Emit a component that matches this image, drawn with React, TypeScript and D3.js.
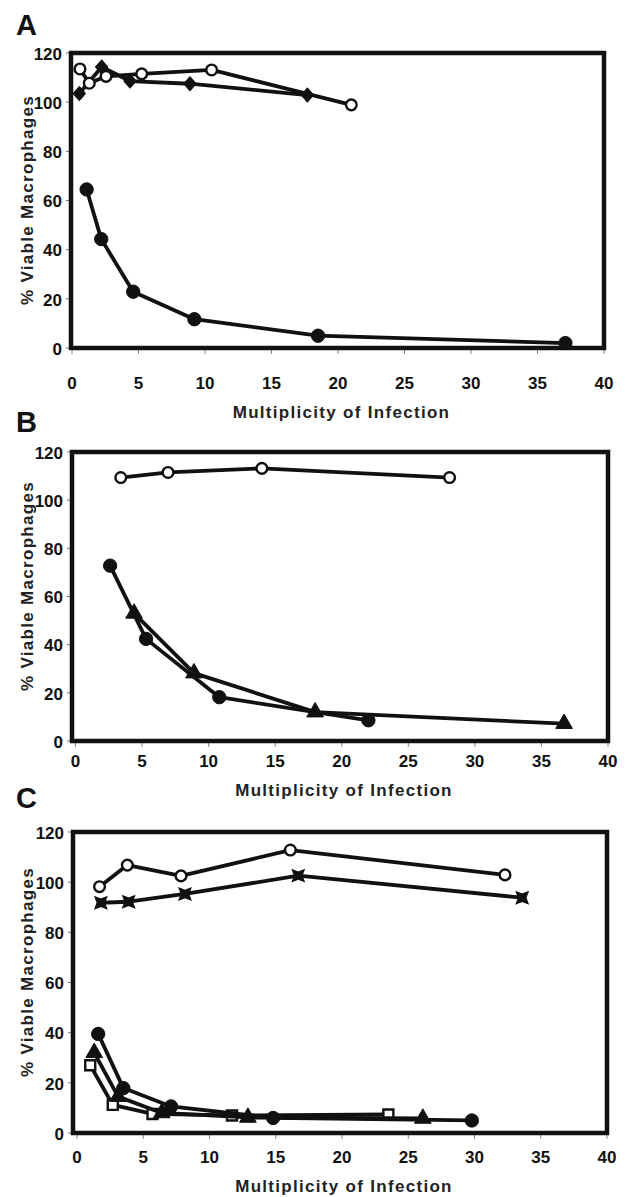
import React from 'react'
import * as d3 from 'd3'

type Pt = [number, number]

// tick values shared by all three panels
const xTicks = [0, 5, 10, 15, 20, 25, 30, 35, 40]
const yTicks = [0, 20, 40, 60, 80, 100, 120]

// Panel A  (MOI, % viable)
const aOpenCircle: Pt[] = [[0.6, 113.5], [1.3, 107.7], [2.56, 110.5], [5.24, 111.5], [10.5, 113.1], [21.0, 98.9]]
const aDiamond: Pt[] = [[0.55, 103.5], [2.23, 114.3], [4.36, 108.6], [8.87, 107.5], [17.7, 102.9]]
const aFilledCircle: Pt[] = [[1.1, 64.5], [2.2, 44.3], [4.6, 22.9], [9.2, 11.7], [18.5, 5.0], [37.1, 2.0]]

// Panel B
const bOpenCircle: Pt[] = [[3.4, 109.4], [6.95, 111.5], [14.0, 113.2], [28.1, 109.4]]
const bFilledCircle: Pt[] = [[2.6, 72.8], [5.3, 42.4], [10.8, 18.2], [22.0, 8.6]]
const bTriangle: Pt[] = [[4.4, 53.0], [8.9, 28.2], [18.0, 12.0], [36.7, 7.2]]

// Panel C
const cOpenCircle: Pt[] = [[1.7, 98.2], [3.8, 106.8], [7.85, 102.5], [16.1, 112.8], [32.3, 102.9]]
const cCross: Pt[] = [[1.8, 91.8], [3.9, 92.2], [8.15, 95.3], [16.7, 102.6], [33.6, 93.8]]
const cFilledCircle: Pt[] = [[1.6, 39.5], [3.5, 17.9], [7.1, 10.6], [14.8, 6.0], [29.8, 5.0]]
const cTriangle: Pt[] = [[1.3, 32.0], [3.1, 14.5], [6.4, 8.0], [12.9, 6.2], [26.1, 5.8]]
const cSquare: Pt[] = [[1.0, 27.0], [2.7, 11.2], [5.7, 7.6], [11.7, 7.0], [23.5, 7.4]]

const FONT = '"Liberation Sans", Arial, Helvetica, sans-serif'
const INK = '#111'

// fat diamond and filled bow-tie marker shapes as d3 symbol types
const fatDiamond = {
  draw(ctx: any, size: number) {
    const r = Math.sqrt(size) / 2
    ctx.moveTo(0, -r * 1.15)
    ctx.lineTo(r, 0)
    ctx.lineTo(0, r * 1.15)
    ctx.lineTo(-r, 0)
    ctx.closePath()
  }
}
const bowTie = {
  draw(ctx: any, size: number) {
    const r = Math.sqrt(size) / 2
    const k = r * 0.62
    ctx.moveTo(-r, -r)
    ctx.lineTo(0, -k)
    ctx.lineTo(r, -r)
    ctx.lineTo(k, 0)
    ctx.lineTo(r, r)
    ctx.lineTo(0, k)
    ctx.lineTo(-r, r)
    ctx.lineTo(-k, 0)
    ctx.closePath()
  }
}

const markers: Record<string, { path: string; fill: string; stroke: string; sw: number }> = {
  filled: { path: d3.symbol(d3.symbolCircle, 140)() || '', fill: INK, stroke: INK, sw: 1 },
  open: { path: d3.symbol(d3.symbolCircle, 90)() || '', fill: '#fff', stroke: INK, sw: 2.4 },
  diamond: { path: d3.symbol(fatDiamond as any, 160)() || '', fill: INK, stroke: INK, sw: 1 },
  triangle: { path: d3.symbol(d3.symbolTriangle, 120)() || '', fill: INK, stroke: INK, sw: 1 },
  square: { path: d3.symbol(d3.symbolSquare, 100)() || '', fill: '#fff', stroke: INK, sw: 2.4 },
  cross: { path: d3.symbol(bowTie as any, 140)() || '', fill: INK, stroke: INK, sw: 1.2 }
}

const panels = [
  {
    letter: 'A', letterY: 35,
    x0: 72, x40: 604, boxLeft: 71, top: 53, bottom: 348,
    tickBase: 389, titleBase: 418, yTitleMid: 200,
    series: [
      { data: aDiamond, marker: 'diamond' },
      { data: aOpenCircle, marker: 'open' },
      { data: aFilledCircle, marker: 'filled' }
    ]
  },
  {
    letter: 'B', letterY: 432,
    x0: 75.5, x40: 608, boxLeft: 72, top: 452, bottom: 741,
    tickBase: 767, titleBase: 796, yTitleMid: 586,
    series: [
      { data: bOpenCircle, marker: 'open' },
      { data: bTriangle, marker: 'triangle' },
      { data: bFilledCircle, marker: 'filled' }
    ]
  },
  {
    letter: 'C', letterY: 808,
    x0: 77, x40: 607, boxLeft: 73, top: 832, bottom: 1133,
    tickBase: 1163, titleBase: 1192, yTitleMid: 972,
    series: [
      { data: cOpenCircle, marker: 'open' },
      { data: cCross, marker: 'cross' },
      { data: cSquare, marker: 'square' },
      { data: cTriangle, marker: 'triangle' },
      { data: cFilledCircle, marker: 'filled' }
    ]
  }
]

function Panel({ p }: { p: any }) {
  const x = d3.scaleLinear().domain([0, 40]).range([p.x0, p.x40])
  const y = d3.scaleLinear().domain([0, 120]).range([p.bottom, p.top])
  const line = d3.line<Pt>().x(d => x(d[0])).y(d => y(d[1]))
  const left = p.boxLeft
  const right = p.x40

  return (
    <g>
      <text x={16} y={p.letterY} fontFamily={FONT} fontWeight="bold" fontSize={29} fill={INK}>{p.letter}</text>

      {/* y ticks + labels */}
      {yTicks.map(t => (
        <g key={'y' + t}>
          <line x1={left - 5} x2={left} y1={y(t)} y2={y(t)} stroke="#777" strokeWidth={1} />
          <text x={left - 9} y={y(t)} dy="0.4em" textAnchor="end" fontFamily={FONT} fontWeight="bold" fontSize={17} fill={INK}>{t}</text>
        </g>
      ))}

      {/* x ticks + labels */}
      {xTicks.map(t => (
        <g key={'x' + t}>
          <line x1={x(t)} x2={x(t)} y1={p.bottom} y2={p.bottom + 6} stroke="#888" strokeWidth={1} />
          <text x={x(t)} y={p.tickBase} textAnchor="middle" fontFamily={FONT} fontWeight="bold" fontSize={17} fill={INK}>{t}</text>
        </g>
      ))}

      <text x={(left + right) / 2 + 4} y={p.titleBase} textAnchor="middle" fontFamily={FONT} fontWeight="bold" fontSize={17} letterSpacing={1.3} fill="#222">Multiplicity of Infection</text>
      <text transform={`translate(33,${p.yTitleMid}) rotate(-90)`} textAnchor="middle" fontFamily={FONT} fontWeight="bold" fontSize={17} letterSpacing={1.3} fill="#222">% Viable Macrophages</text>

      {p.series.map((s: any, i: number) => (
        <g key={'s' + i}>
          <path d={line(s.data) || ''} fill="none" stroke={INK} strokeWidth={3.8} strokeLinejoin="round" />
          {s.data.map((d: Pt, j: number) => {
            const m = markers[s.marker]
            return (
              <path key={j} d={m.path} transform={`translate(${x(d[0])},${y(d[1])})`} fill={m.fill} stroke={m.stroke} strokeWidth={m.sw} />
            )
          })}
        </g>
      ))}

      <rect x={left} y={p.top} width={right - left} height={p.bottom - p.top} fill="none" stroke={INK} strokeWidth={4.5} />
    </g>
  )
}

export default function App() {
  return (
    <svg width={625} height={1197} style={{ position: 'absolute', left: 0, top: 0, background: '#fff' }}>
      <rect width={625} height={1197} fill="#fff" />
      {panels.map(p => <Panel key={p.letter} p={p} />)}
    </svg>
  )
}
